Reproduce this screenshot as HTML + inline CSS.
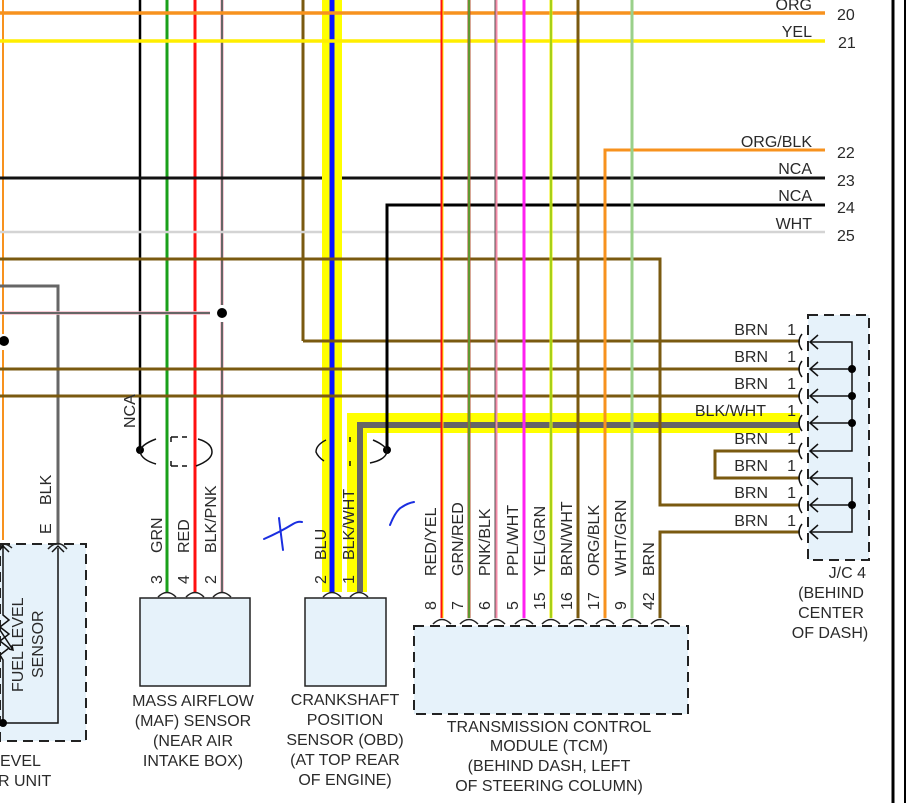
<!DOCTYPE html>
<html><head><meta charset="utf-8"><style>
html,body{margin:0;padding:0;background:#fff;width:916px;height:803px;overflow:hidden}
svg{display:block}
text{font-family:"Liberation Sans",sans-serif;font-size:16px;fill:#2a2a2a}
</style></head><body>
<svg width="916" height="803" viewBox="0 0 916 803" xmlns="http://www.w3.org/2000/svg">
<!-- component boxes -->
<rect x="0" y="544" width="86" height="197" fill="#e6f2fa" stroke="#222" stroke-width="2" stroke-dasharray="10,6"/>
<rect x="140" y="598" width="110" height="88" fill="#e6f2fa" stroke="#222" stroke-width="1.5"/>
<rect x="305" y="598" width="81" height="88" fill="#e6f2fa" stroke="#222" stroke-width="1.5"/>
<rect x="414" y="626" width="274" height="88" fill="#e6f2fa" stroke="#222" stroke-width="2" stroke-dasharray="10,6"/>
<rect x="808" y="315" width="61" height="245" fill="#e6f2fa" stroke="#222" stroke-width="2" stroke-dasharray="10,6"/>

<!-- right border -->
<line x1="893" y1="0" x2="893" y2="803" stroke="#000" stroke-width="3"/>
<line x1="905" y1="0" x2="905" y2="803" stroke="#000" stroke-width="2"/>

<!-- vertical wires (left) -->
<line x1="3" y1="0" x2="3" y2="334" stroke="#f7921e" stroke-width="2"/>
<line x1="3" y1="350" x2="3" y2="540" stroke="#f7921e" stroke-width="2"/>
<line x1="140" y1="0" x2="140" y2="450" stroke="#000" stroke-width="2.5"/>
<line x1="167" y1="0" x2="167" y2="592" stroke="#1aa01a" stroke-width="3"/>
<line x1="195" y1="0" x2="195" y2="592" stroke="#ff1010" stroke-width="3"/>
<line x1="222" y1="0" x2="222" y2="305" stroke="#f3b8c6" stroke-width="3.5"/>
<line x1="222" y1="0" x2="222" y2="305" stroke="#666" stroke-width="2"/>
<line x1="222" y1="322" x2="222" y2="592" stroke="#f3b8c6" stroke-width="3.5"/>
<line x1="222" y1="322" x2="222" y2="592" stroke="#666" stroke-width="2"/>
<line x1="303" y1="0" x2="303" y2="341" stroke="#7a5a10" stroke-width="3"/>

<!-- horizontal wires with gap at band -->
<line x1="0" y1="178" x2="825" y2="178" stroke="#111" stroke-width="3"/>
<line x1="0" y1="232" x2="825" y2="232" stroke="#d4d4d4" stroke-width="2.5"/>
<polyline points="0,286 58,286 58,545" fill="none" stroke="#666" stroke-width="3"/>
<line x1="0" y1="313" x2="210" y2="313" stroke="#f3b8c6" stroke-width="3.5"/>
<line x1="0" y1="313" x2="210" y2="313" stroke="#666" stroke-width="2"/>
<polyline points="800,451 715,451 715,478 800,478" fill="none" stroke="#7a5a10" stroke-width="3"/>

<!-- highlighted wires -->
<line x1="332" y1="0" x2="332" y2="592" stroke="#ffff00" stroke-width="20"/>
<line x1="332" y1="0" x2="332" y2="592" stroke="#0a14ff" stroke-width="5"/>
<polyline points="800,423 357,423 357,592" fill="none" stroke="#ffff00" stroke-width="20"/>
<polyline points="800,425 360,425 360,592" fill="none" stroke="#666" stroke-width="6"/>

<!-- wires crossing over band -->
<line x1="0" y1="13" x2="825" y2="13" stroke="#f7921e" stroke-width="3.5"/>
<line x1="0" y1="41" x2="825" y2="41" stroke="#ffee00" stroke-width="3.5"/>
<polyline points="0,259 660,259 660,505 800,505" fill="none" stroke="#7a5a10" stroke-width="3"/>
<line x1="303" y1="341" x2="800" y2="341" stroke="#7a5a10" stroke-width="3"/>
<line x1="0" y1="369" x2="800" y2="369" stroke="#7a5a10" stroke-width="3"/>
<line x1="0" y1="396" x2="800" y2="396" stroke="#7a5a10" stroke-width="3"/>
<polyline points="825,205 387,205 387,450" fill="none" stroke="#000" stroke-width="3"/>

<!-- TCM vertical wires -->
<line x1="442" y1="0" x2="442" y2="618" stroke="#ff1010" stroke-width="3"/><line x1="443" y1="0" x2="443" y2="618" stroke="#ffee00" stroke-width="1"/>
<line x1="469" y1="0" x2="469" y2="618" stroke="#b05030" stroke-width="3"/><line x1="469" y1="0" x2="469" y2="618" stroke="#44b030" stroke-width="1.5"/>
<line x1="496" y1="0" x2="496" y2="618" stroke="#f58ca8" stroke-width="3"/><line x1="495" y1="0" x2="495" y2="618" stroke="#555" stroke-width="1"/>
<line x1="524" y1="0" x2="524" y2="618" stroke="#ff20f0" stroke-width="3"/>
<line x1="551" y1="0" x2="551" y2="618" stroke="#f0f000" stroke-width="3"/><line x1="551" y1="0" x2="551" y2="618" stroke="#5ab030" stroke-width="1"/>
<line x1="578" y1="0" x2="578" y2="618" stroke="#7a5a10" stroke-width="3"/>
<polyline points="825,150 605,150 605,618" fill="none" stroke="#f7921e" stroke-width="3"/>
<line x1="632" y1="0" x2="632" y2="618" stroke="#9ad08a" stroke-width="3"/>
<polyline points="660,618 660,532 800,532" fill="none" stroke="#7a5a10" stroke-width="3"/>

<!-- dots -->
<circle cx="4" cy="341" r="5" fill="#000"/>
<circle cx="222" cy="313" r="5" fill="#000"/>
<circle cx="140" cy="450" r="4" fill="#000"/>
<circle cx="387" cy="450" r="4" fill="#000"/>

<!-- splice loops -->
<g fill="none" stroke="#111" stroke-width="1.5">
<path d="M156,439 Q140,445 140,452 Q142,460 156,464"/>
<path d="M171,437 h7 M171,466 h7 M171,437 v5 M171,466 v-5 M182,437 h5 M182,466 h5"/>
<path d="M198,439 Q212,443 212,452 Q212,460 196,466"/>
<path d="M326,440 Q316,445 316,452 Q318,457 324,461"/>
<path d="M350,437 v5 M350,466 v-5"/>
<path d="M373,440 Q387,446 387,452 Q385,460 370,463"/>
</g>

<!-- pin caps -->
<g fill="none" stroke="#222" stroke-width="1.5">
<path d="M0,549 Q3,540 12,548"/><path d="M48,549 Q58,538 67,549"/>
<path d="M158,597 Q167,588 176,597"/><path d="M186,597 Q195,588 204,597"/><path d="M213,597 Q222,588 231,597"/>
<path d="M323,597 Q332,588 341,597"/><path d="M350,597 Q359,588 368,597"/>
<path d="M433,624 Q442,615 451,624"/><path d="M460,624 Q469,615 478,624"/><path d="M487,624 Q496,615 505,624"/>
<path d="M515,624 Q524,615 533,624"/><path d="M542,624 Q551,615 560,624"/><path d="M569,624 Q578,615 587,624"/>
<path d="M596,624 Q605,615 614,624"/><path d="M623,624 Q632,615 641,624"/><path d="M651,624 Q660,615 669,624"/>
</g>

<!-- fuel sensor internals -->
<g fill="none" stroke="#111" stroke-width="1.5">
<polyline points="3,545 3,615 9,620 0,627 9,634 0,641 9,648 0,655 3,660 3,723 58,723 58,548"/>
<path d="M-2,552 L3,546 L9,552 M52,552 L58,546 L64,552"/>
<path d="M0,630 L13,650 M9,649 L13,650 L12,645"/>
</g>
<circle cx="3" cy="723" r="4" fill="#000"/>

<!-- J/C internals -->
<g fill="none" stroke="#111" stroke-width="1.5">
<path d="M810,342 H852 V451 H810 M810,369 H852 M810,396 H852 M810,423 H852"/>
<path d="M810,478 H852 V532 H810 M810,505 H852"/>
<path d="M818,335 L810,342 L818,349 M818,362 L810,369 L818,376 M818,389 L810,396 L818,403 M818,416 L810,423 L818,430 M818,444 L810,451 L818,458 M818,471 L810,478 L818,485 M818,498 L810,505 L818,512 M818,525 L810,532 L818,539"/>
<path d="M802,334 Q796,342 802,350 M802,361 Q796,369 802,377 M802,388 Q796,396 802,404 M802,415 Q796,423 802,431 M802,443 Q796,451 802,459 M802,470 Q796,478 802,486 M802,497 Q796,505 802,513 M802,524 Q796,532 802,540"/>
</g>
<circle cx="852" cy="369" r="4" fill="#000"/><circle cx="852" cy="396" r="4" fill="#000"/><circle cx="852" cy="423" r="4" fill="#000"/><circle cx="852" cy="505" r="4" fill="#000"/>

<!-- right labels -->
<g text-anchor="end">
<text x="812" y="10">ORG</text>
<text x="812" y="37">YEL</text>
<text x="812" y="147">ORG/BLK</text>
<text x="812" y="174">NCA</text>
<text x="812" y="201">NCA</text>
<text x="812" y="229">WHT</text>
<text x="768" y="335">BRN</text><text x="768" y="362">BRN</text><text x="768" y="389">BRN</text>
<text x="766" y="416">BLK/WHT</text>
<text x="768" y="444">BRN</text><text x="768" y="471">BRN</text><text x="768" y="498">BRN</text><text x="768" y="526">BRN</text>
<text x="796" y="335">1</text><text x="796" y="362">1</text><text x="796" y="389">1</text><text x="796" y="416">1</text>
<text x="796" y="444">1</text><text x="796" y="471">1</text><text x="796" y="498">1</text><text x="796" y="526">1</text>
<text x="866" y="578">J/C 4</text>
</g>
<g>
<text x="837" y="20">20</text><text x="838" y="48">21</text><text x="837" y="158">22</text>
<text x="837" y="186">23</text><text x="837" y="213">24</text><text x="837" y="241">25</text>
</g>
<g text-anchor="middle">
<text x="831" y="598">(BEHIND</text><text x="831" y="618">CENTER</text><text x="830" y="638">OF DASH)</text>
<text x="193" y="706">MASS AIRFLOW</text><text x="193" y="726">(MAF) SENSOR</text><text x="193" y="746">(NEAR AIR</text><text x="193" y="766">INTAKE BOX)</text>
<text x="345" y="705">CRANKSHAFT</text><text x="345" y="725">POSITION</text><text x="345" y="745">SENSOR (OBD)</text><text x="345" y="765">(AT TOP REAR</text><text x="345" y="785">OF ENGINE)</text>
<text x="549" y="732">TRANSMISSION CONTROL</text><text x="549" y="751">MODULE (TCM)</text><text x="549" y="771">(BEHIND DASH, LEFT</text><text x="549" y="791">OF STEERING COLUMN)</text>
</g>
<text x="0" y="766">EVEL</text><text x="-2" y="786">R UNIT</text>

<!-- rotated labels -->
<g>
<text transform="translate(135,428) rotate(-90)">NCA</text>
<text transform="translate(51,505) rotate(-90)">BLK</text>
<text transform="translate(51,534) rotate(-90)">E</text>
<text transform="translate(162,553) rotate(-90)">GRN</text>
<text transform="translate(189,553) rotate(-90)">RED</text>
<text transform="translate(216,553) rotate(-90)">BLK/PNK</text>
<text transform="translate(162,584) rotate(-90)">3</text>
<text transform="translate(189,584) rotate(-90)">4</text>
<text transform="translate(216,584) rotate(-90)">2</text>
<text transform="translate(326,560) rotate(-90)">BLU</text>
<text transform="translate(354,560) rotate(-90)">BLK/WHT</text>
<text transform="translate(326,584) rotate(-90)">2</text>
<text transform="translate(354,584) rotate(-90)">1</text>
<text transform="translate(436,576) rotate(-90)">RED/YEL</text>
<text transform="translate(463,576) rotate(-90)">GRN/RED</text>
<text transform="translate(490,576) rotate(-90)">PNK/BLK</text>
<text transform="translate(518,576) rotate(-90)">PPL/WHT</text>
<text transform="translate(545,576) rotate(-90)">YEL/GRN</text>
<text transform="translate(572,576) rotate(-90)">BRN/WHT</text>
<text transform="translate(599,576) rotate(-90)">ORG/BLK</text>
<text transform="translate(626,576) rotate(-90)">WHT/GRN</text>
<text transform="translate(654,576) rotate(-90)">BRN</text>
<text transform="translate(436,610) rotate(-90)">8</text>
<text transform="translate(463,610) rotate(-90)">7</text>
<text transform="translate(490,610) rotate(-90)">6</text>
<text transform="translate(518,610) rotate(-90)">5</text>
<text transform="translate(545,610) rotate(-90)">15</text>
<text transform="translate(572,610) rotate(-90)">16</text>
<text transform="translate(599,610) rotate(-90)">17</text>
<text transform="translate(626,610) rotate(-90)">9</text>
<text transform="translate(654,610) rotate(-90)">42</text>
<text transform="translate(23,692) rotate(-90)">FUEL LEVEL</text>
<text transform="translate(43,678) rotate(-90)">SENSOR</text>
</g>

<!-- hand marks -->
<g fill="none" stroke="#1a2ee0" stroke-width="2" stroke-linecap="round">
<path d="M264,539 Q280,532 293,524 Q298,521 302,522"/>
<path d="M279,518 Q281,535 283,550"/>
<path d="M390,525 Q396,510 402,507 Q408,503 414,502"/>
</g>
</svg>
</body></html>
